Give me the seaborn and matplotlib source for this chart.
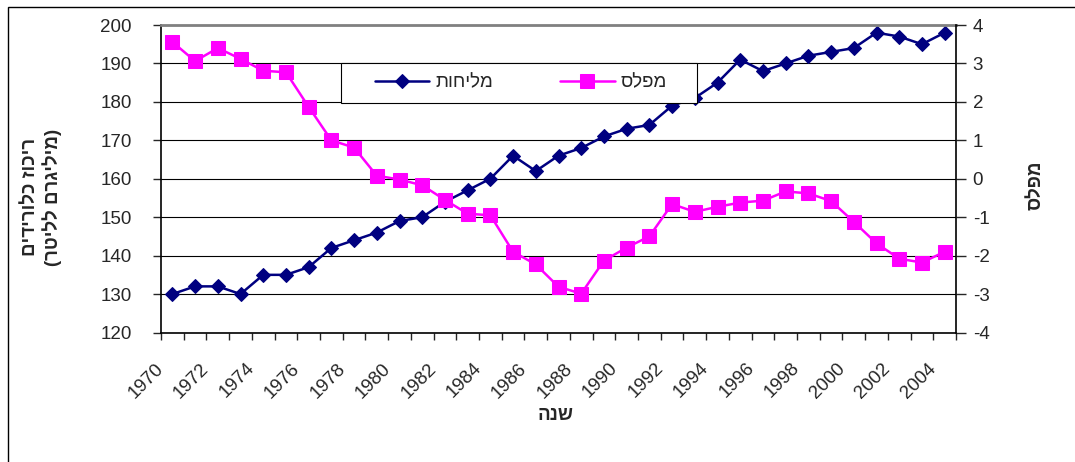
import numpy as np
import seaborn as sns
import matplotlib.pyplot as plt
from matplotlib.patches import Rectangle


# data
years = list(range(1970, 2005))
salinity = [130, 132, 132, 130, 135, 135, 137, 142, 144, 146,
            149, 150, 154, 157, 160, 166, 162, 166, 168, 171,
            173, 174, 179, 181, 185, 191, 188, 190, 192, 193,
            194, 198, 197, 195, 198]
level = [3.56, 3.06, 3.40, 3.12, 2.81, 2.77, 1.87, 1.00, 0.81, 0.08,
         -0.02, -0.17, -0.55, -0.91, -0.95, -1.90, -2.23, -2.81, -2.99, -2.13,
         -1.79, -1.50, -0.66, -0.86, -0.73, -0.62, -0.57, -0.33, -0.38, -0.58,
         -1.12, -1.68, -2.08, -2.18, -1.90]

sal_name = 'מליחות'
lvl_name = 'מפלס'
x_title = 'שנה'
y_title = 'ריכוז כלורידים\n(מיליגרם לליטר)'


def heb(s):
    # matplotlib has no bidi support, so put the hebrew in visual order
    swap = {'(': ')', ')': '('}
    lines = []
    for line in s.split('\n'):
        lines.append(''.join(swap.get(c, c) for c in reversed(line)))
    return '\n'.join(lines)


sns.set_style('white')
plt.rcParams['font.family'] = ['Liberation Sans', 'DejaVu Sans']
plt.rcParams['axes.unicode_minus'] = False

W, H = 1075, 462
fig = plt.figure(figsize=(W / 100, H / 100), dpi=100)
ax = fig.add_axes([161 / W, 1 - 332.5 / H, 795 / W, 307.5 / H])
ax2 = ax.twinx()

navy = '#000080'
pink = '#FF00FF'
fs = 13.5

sns.lineplot(x=years, y=salinity, ax=ax, color=navy, lw=1.8,
             marker='D', markersize=7.5, markeredgecolor=navy,
             label=heb(sal_name), legend=False)
sns.lineplot(x=years, y=level, ax=ax2, color=pink, lw=1.8,
             marker='s', markersize=10, markeredgecolor=pink,
             label=heb(lvl_name), legend=False)

# category axis: points sit in the middle of each slot
bounds = np.arange(years[0] - 0.5, years[-1] + 1.0, 1.0)
ax.set_xlim(bounds[0], bounds[-1])
ax.set_xticks(bounds)
xlabels = []
for b in bounds:
    y = int(b + 0.5)
    xlabels.append(str(y) if (y % 2 == 0 and y <= years[-1]) else '')
ax.set_xticklabels(xlabels, rotation=45, ha='right', va='center',
                   rotation_mode='anchor', fontsize=fs)

ax.set_ylim(120, 200)
ax.set_yticks(range(120, 201, 10))
ax2.set_ylim(-4, 4)
ax2.set_yticks(range(-4, 5))

ax.tick_params(axis='y', labelsize=fs, length=6, width=1, direction='out',
               left=True, pad=15)
ax.tick_params(axis='x', length=5, width=1, direction='out', bottom=True, pad=19)
ax2.tick_params(axis='y', labelsize=fs, length=7, width=1, direction='out',
                right=True, pad=5)

ax.grid(axis='y', color='black', lw=0.8)
ax.grid(axis='x', visible=False)

for s in ['left', 'bottom']:
    ax.spines[s].set_color('black')
    ax.spines[s].set_linewidth(1.2)
ax.spines['right'].set_visible(False)
ax.spines['top'].set_color('#808080')
ax.spines['top'].set_linewidth(2)
for s in ['left', 'bottom', 'top']:
    ax2.spines[s].set_visible(False)
ax2.spines['right'].set_color('black')
ax2.spines['right'].set_linewidth(1.2)

ax.set_xlabel(heb(x_title), fontsize=fs, fontweight='bold')
ax.xaxis.set_label_coords(0.496, -0.27)
ax.xaxis.label.set_va('center')

ax.set_ylabel(heb(y_title), fontsize=fs, fontweight='bold', linespacing=1.2)
ax.yaxis.set_label_coords(-0.15, 0.44)
ax.yaxis.label.set_va('center')

ax2.set_ylabel(heb(lvl_name), fontsize=fs, fontweight='bold', rotation=90)
ax2.yaxis.set_label_coords(1.1, 0.48)
ax2.yaxis.label.set_va('center')

# legend box drawn by hand, entries placed inside it
box = Rectangle((341 / W, 1 - 103 / H), 356 / W, 40 / H,
                transform=fig.transFigure, facecolor='white',
                edgecolor='black', lw=0.8, zorder=4.5, clip_on=False)
ax2.add_patch(box)

handles = ax.get_lines()[:1] + ax2.get_lines()[:1]
leg = ax2.legend(handles=handles, labels=[heb(sal_name), heb(lvl_name)],
                 ncol=2, loc='center left',
                 bbox_to_anchor=(375 / W, 1 - 83 / H),
                 bbox_transform=fig.transFigure,
                 fontsize=fs, frameon=False, handlelength=2.9,
                 handletextpad=0.3, columnspacing=3.6, borderpad=0,
                 borderaxespad=0)

# outer chart area border
fig.patches.append(Rectangle((8 / W, -0.1), 1.2, 1.1 - 7 / H,
                             transform=fig.transFigure, fill=False,
                             edgecolor='black', lw=1))

fig.savefig('out.png', dpi=100)
